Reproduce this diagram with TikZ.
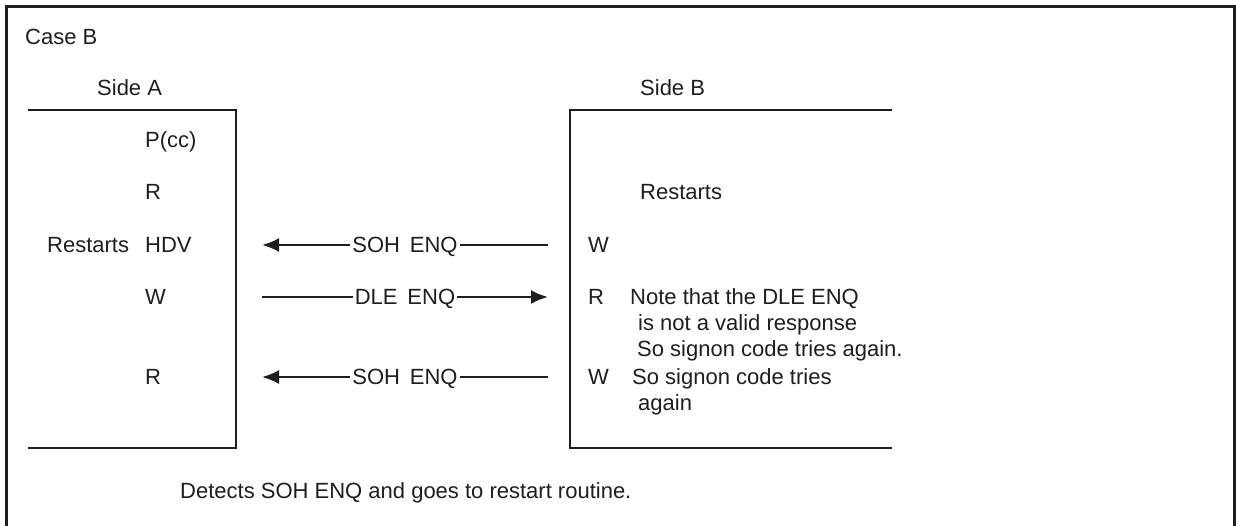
\documentclass[tikz,border=0pt]{standalone}
\usepackage{fontspec}
\setmainfont{Liberation Sans}
\usetikzlibrary{arrows.meta}
\definecolor{ink}{HTML}{1E1E1E}
\begin{document}
\begin{tikzpicture}[x=1pt,y=-1pt,
  txt/.style={inner sep=0pt,anchor=west,text height=15.5pt,text depth=0pt,text=ink,font=\fontsize{22}{26}\selectfont},
  frame/.style={draw=ink,line width=3pt},
  boxline/.style={draw=ink,line width=2.4pt},
  msg/.style={draw=ink,line width=2.2pt,-{Latex[length=17pt,width=14pt]}},
  lbl/.style={fill=white,inner sep=2pt,text height=15.5pt,text depth=0pt,text=ink,font=\fontsize{22}{26}\selectfont}]
\useasboundingbox (0,0) rectangle (1236,525);
% outer frame (open at bottom)
\draw[frame] (6,530) -- (6,6) -- (1234,6) -- (1234,530);
\node[txt] (caseb) at (25,37) {Case B};
% Side A
\node[txt] (sidea) at (97,88) {Side A};
\draw[boxline] (28,110) -- (236,110) -- (236,448) -- (28,448);
\node[txt] (pcc) at (145,140) {P(cc)};
\node[txt] (ra1) at (145,192) {R};
\node[txt] (rsa) at (47,245) {Restarts};
\node[txt] (hdv) at (145,245) {HDV};
\node[txt] (wa) at (145,297) {W};
\node[txt] (ra2) at (145,377) {R};
% Side B
\node[txt] (sideb) at (640,88) {Side B};
\draw[boxline] (892,110) -- (570,110) -- (570,448) -- (892,448);
\node[txt] (rsb) at (640,192) {Restarts};
\node[txt] (wb1) at (588,245) {W};
\node[txt] (rb) at (588,297) {R};
\node[txt] (n1) at (630,297) {Note that the DLE ENQ};
\node[txt] (n2) at (638,323) {is not a valid response};
\node[txt] (n3) at (637,349) {So signon code tries again.};
\node[txt] (wb2) at (588,377) {W};
\node[txt] (n4) at (632,377) {So signon code tries};
\node[txt] (n5) at (638,403) {again};
% messages
\coordinate (m1r) at (548,245); \coordinate (m1l) at (262,245);
\coordinate (m2l) at (262,297); \coordinate (m2r) at (548,297);
\coordinate (m3r) at (548,377); \coordinate (m3l) at (262,377);
\draw[msg] (m1r) -- node[lbl] (l1) {SOH\hspace{0.45em}ENQ} (m1l);
\draw[msg] (m2l) -- node[lbl] (l2) {DLE\hspace{0.45em}ENQ} (m2r);
\draw[msg] (m3r) -- node[lbl] (l3) {SOH\hspace{0.45em}ENQ} (m3l);
% bottom note
\node[txt] (det) at (180,491) {Detects SOH ENQ and goes to restart routine.};
\end{tikzpicture}
\end{document}
